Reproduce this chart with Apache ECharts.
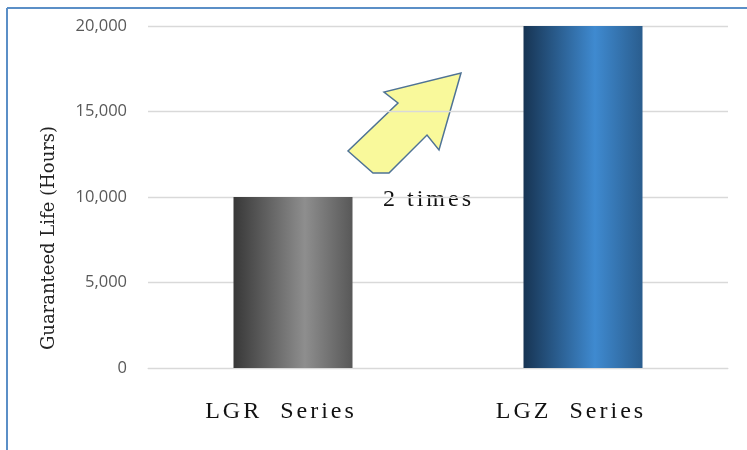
<!DOCTYPE html>
<html><head><meta charset="utf-8">
<script src="https://cdn.jsdelivr.net/npm/echarts@6/dist/echarts.min.js"></script>
<style>html,body{margin:0;padding:0;background:#fff}#c{width:747px;height:450px}</style>
</head><body><div id="c"></div>
<script>
var categories = ['LGR  Series', 'LGZ  Series'];
var values = [10000, 20000];
var yTicks = [0, 5000, 10000, 15000, 20000];
var yName = 'Guaranteed Life (Hours)';
var note = '2 times';

// letter spacing for the spaced-out serif labels (canvas letterSpacing)
(function(){
  var proto = CanvasRenderingContext2D.prototype;
  var orig = proto.fillText;
  proto.fillText = function(txt, x, y){
    var ls = (categories.indexOf(txt) >= 0 || txt === note) ? '3px' : null;
    if (ls && 'letterSpacing' in this) {
      var f = this.font;
      this.save();
      this.letterSpacing = ls;
      this.font = f;
      orig.call(this, txt, x, y);
      this.restore();
      this.letterSpacing = '0px';
      this.font = f;
      return;
    }
    return orig.apply(this, arguments);
  };
})();

var grads = [
  new echarts.graphic.LinearGradient(0,0,1,0,[
    {offset:0,color:'#383838'},{offset:0.6,color:'#8e8e8e'},{offset:1,color:'#585858'}]),
  new echarts.graphic.LinearGradient(0,0,1,0,[
    {offset:0,color:'#173453'},{offset:0.6,color:'#3f8ad0'},{offset:1,color:'#2a5d8e'}])
];

var chart = echarts.init(document.getElementById('c'));
chart.setOption({
  animation:false,
  grid:{left:148,right:19,top:26,bottom:82},
  xAxis:{type:'category',data:categories,
    axisLine:{lineStyle:{color:'#d9d9d9'}},axisTick:{show:false},
    axisLabel:{margin:32,color:'#111',fontFamily:'Liberation Serif',fontSize:24,padding:[0,24,0,0]}},
  yAxis:{type:'value',min:yTicks[0],max:yTicks[yTicks.length-1],interval:5000,
    axisLine:{show:false},axisTick:{show:false},
    splitLine:{lineStyle:{color:'#d9d9d9',width:1.3}},
    axisLabel:{margin:21,color:'#595959',fontFamily:'Open Sans',fontSize:16.5,
      formatter:function(v){return v.toLocaleString('en-US');}}},
  series:[{type:'bar',barWidth:119,
    data:values.map(function(v,i){return {value:v,itemStyle:{color:grads[i]}};})}],
  graphic:[
    {type:'line',shape:{x1:7,y1:8,x2:7,y2:450},style:{stroke:'#5b8fc7',lineWidth:2}},
    {type:'line',shape:{x1:7,y1:8,x2:747,y2:8},style:{stroke:'#5b8fc7',lineWidth:2}},
    {type:'text',x:49,y:238,rotation:Math.PI/2,
      style:{text:yName,fontFamily:'DejaVu Serif',fontSize:18,fill:'#222',textAlign:'center',textVerticalAlign:'middle'}},
    {type:'polygon',shape:{points:[[348,151],[373,173],[389,173],[427,135],[439,150],[461,73],[384,92],[398,103]]},
      style:{fill:'#f9f99b',stroke:'#4f7395',lineWidth:1.5}},
    {type:'text',x:383,y:200,
      style:{text:note,fontFamily:'Liberation Serif',fontSize:24,fill:'#111',textVerticalAlign:'middle'}}
  ]
});
</script></body></html>
